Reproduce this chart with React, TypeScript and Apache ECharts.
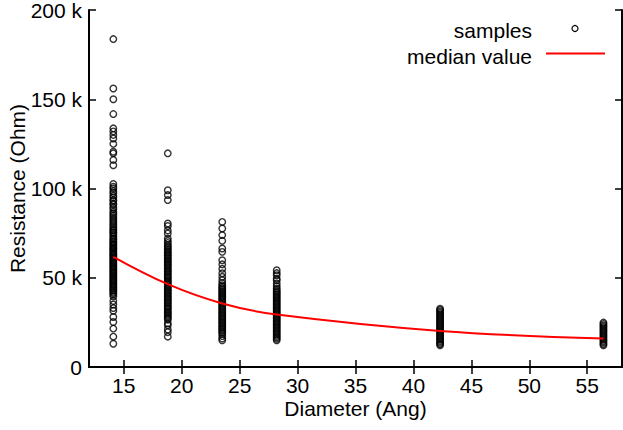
import { useEffect, useRef } from 'react';
import * as echarts from 'echarts';

// Diameters (Ang) of the sample columns
const diameters = [14.1, 18.8, 23.5, 28.2, 42.3, 56.4];

// Resistance samples (kOhm) per diameter column
const samplesD141 = [
  183.7, 156, 150, 141.7, 133.7, 132, 130, 128, 125, 120.6, 119.7, 116, 113,
  102.5, 101, 100, 98.5, 97.5, 96, 95, 93.5, 93, 91.5, 91, 89.5, 88.5, 87, 86, 85, 84, 83, 82, 81, 80, 79, 78, 77, 76.5, 75.5, 75, 74, 73, 72, 71.5, 70.5, 70,
  69.2, 68.5, 67.8, 67, 66.4, 65.8, 65, 64.3, 63.5, 63, 62.2, 61.5, 60.8, 60, 59.4, 58.7, 58, 57.2, 56.5, 55.9, 55, 54.4, 53.6, 53, 52.3, 51.5, 50.8, 50, 49.3, 48.6, 48, 47.2, 46.5, 45.8, 45, 44.3, 43.6, 43, 42.1, 41.4, 40.6,
  39.5, 37, 35, 33, 31.5, 28, 25.2, 21.5, 17, 13,
];
const samplesD188 = [
  119.7, 99, 96.3, 93.5, 80.4, 79, 76.5, 74.8, 72, 70.6,
  69.5, 68.3, 67.5, 66.6, 65.8, 65, 64.1, 63.3, 62.5, 61.6, 60.8, 60, 59.1, 58.4, 57.5, 56.8, 56, 55.1, 54.3, 53.5, 52.7, 51.8, 51, 50.2, 49.4, 48.5, 47.8, 47, 46.1, 45.3, 44.5, 43.7, 42.8, 42, 41.2, 40.4, 39.5, 38.7, 38, 37.1, 36.3, 35.5, 34.6, 33.8, 33, 32.2, 31.3, 30.5, 29.8, 29, 28.1, 27.3, 26.5,
  24.5, 23.4, 21, 19.5, 17,
];
const samplesD235 = [
  81.3, 77.6, 73.9, 70.7, 66.4, 64.5, 59.8, 57.5, 55, 52.5, 50.5, 48.6, 47,
  45.8, 45, 44.2, 43.4, 42.6, 41.8, 41, 40.2, 39.4, 38.6, 37.8, 37, 36.2, 35.4, 34.6, 33.8, 33, 32.2, 31.4, 30.6, 29.8, 29, 28.2, 27.4, 26.6, 25.8, 25, 24.2, 23.4, 22.6, 21.8, 21, 20.2, 19.4, 18.6,
  17.3, 16, 15,
];
const samplesD282 = [
  54.2, 52.6, 51.4, 49.5, 48.6, 46.8, 45.3, 44, 43,
  42.2, 41.4, 40.6, 39.8, 39, 38.2, 37.4, 36.6, 35.8, 35, 34.2, 33.4, 32.6, 31.8, 31, 30.2, 29.4, 28.6, 27.8, 27, 26.2, 25.4, 24.6, 23.8, 23, 22.2, 21.4, 20.6, 19.8, 19, 18.2, 17.4, 16.6, 15.8, 15,
];
const samplesD423 = [32.7, 32, 31.2, 30.4, 29.6, 28.8, 28, 27.2, 26.4, 25.6, 24.8, 24, 23.2, 22.4, 21.6, 20.8, 20, 19.2, 18.4, 17.6, 16.8, 16, 15.2, 14.4, 13.6, 12.9, 12.2];
const samplesD564 = [24.9, 24.1, 23.3, 22.5, 21.7, 20.9, 20.1, 19.3, 18.5, 17.7, 16.9, 16.1, 15.3, 14.5, 13.7, 12.9, 12.2];

// Median value (kOhm) per diameter
const medianValues = [61.7, 46.4, 35.6, 29.4, 20.2, 15.9];

// Axis ticks
const xTicks = [15, 20, 25, 30, 35, 40, 45, 50, 55];
const yTicks = [0, 50, 100, 150, 200];

const FONT = 'Liberation Sans, Arial, sans-serif';

export default function App() {
  const ref = useRef<HTMLDivElement>(null);

  useEffect(() => {
    if (!ref.current) return;
    const chart = echarts.init(ref.current, undefined, { renderer: 'svg' });

    const columns = [samplesD141, samplesD188, samplesD235, samplesD282, samplesD423, samplesD564];
    const scatterData: number[][] = [];
    columns.forEach((col, i) => col.forEach((v) => scatterData.push([diameters[i], v])));
    const medianData = diameters.map((d, i) => [d, medianValues[i]]);

    const axisLine = { show: true, lineStyle: { color: '#000', width: 2 } };
    const axisTick = { show: true, inside: true, length: 7, lineStyle: { color: '#000', width: 1.5 } };

    chart.setOption({
      animation: false,
      grid: { left: 89, right: 1, top: 10, bottom: 63, containLabel: false, outerBoundsMode: 'none' },
      xAxis: [
        {
          type: 'value',
          min: 12,
          max: 58,
          position: 'bottom',
          name: 'Diameter (Ang)',
          nameLocation: 'middle',
          nameGap: 31,
          nameMoveOverlap: false,
          nameTextStyle: { color: '#000', fontSize: 21, fontFamily: FONT },
          axisLine,
          axisTick: { ...axisTick, customValues: xTicks },
          axisLabel: { color: '#000', fontSize: 21, fontFamily: FONT, margin: 8, customValues: xTicks },
          splitLine: { show: false },
        },
        {
          type: 'value',
          min: 12,
          max: 58,
          position: 'top',
          axisLine,
          axisTick: { ...axisTick, customValues: xTicks },
          axisLabel: { show: false },
          splitLine: { show: false },
        },
      ],
      yAxis: [
        {
          type: 'value',
          min: 0,
          max: 200,
          interval: 50,
          position: 'left',
          name: 'Resistance (Ohm)',
          nameLocation: 'middle',
          nameGap: 61,
          nameMoveOverlap: false,
          nameTextStyle: { color: '#000', fontSize: 21, fontFamily: FONT },
          axisLine,
          axisTick: { ...axisTick, customValues: yTicks },
          axisLabel: {
            color: '#000',
            fontSize: 21,
            fontFamily: FONT,
            margin: 7,
            customValues: yTicks,
            formatter: (v: number) => (v === 0 ? '0' : `${v} k`),
          },
          splitLine: { show: false },
        },
        {
          type: 'value',
          min: 0,
          max: 200,
          interval: 50,
          position: 'right',
          axisLine,
          axisTick,
          axisLabel: { show: false },
          splitLine: { show: false },
        },
      ],
      series: [
        {
          name: 'samples',
          type: 'scatter',
          data: scatterData,
          symbol: 'circle',
          symbolSize: 6.5,
          itemStyle: { color: 'rgba(0,0,0,0)', borderColor: '#000', borderWidth: 1.4 },
          z: 2,
        },
        {
          name: 'median value',
          type: 'line',
          data: medianData,
          smooth: 0.4,
          showSymbol: false,
          symbol: 'none',
          lineStyle: { color: '#ff0000', width: 2 },
          z: 3,
        },
      ],
      graphic: [
        {
          type: 'text',
          x: 532,
          y: 30,
          style: { text: 'samples', fill: '#000', fontSize: 21, fontFamily: FONT, align: 'right', verticalAlign: 'middle' },
        },
        {
          type: 'circle',
          shape: { cx: 575, cy: 28.5, r: 3 },
          style: { fill: 'none', stroke: '#000', lineWidth: 1.2 },
        },
        {
          type: 'text',
          x: 532,
          y: 56,
          style: { text: 'median value', fill: '#000', fontSize: 21, fontFamily: FONT, align: 'right', verticalAlign: 'middle' },
        },
        {
          type: 'line',
          shape: { x1: 546, y1: 53.5, x2: 605, y2: 53.5 },
          style: { stroke: '#ff0000', lineWidth: 2 },
        },
      ],
    });

    return () => chart.dispose();
  }, []);

  return <div ref={ref} style={{ position: 'absolute', left: 0, top: 0, width: 623, height: 430 }} />;
}
